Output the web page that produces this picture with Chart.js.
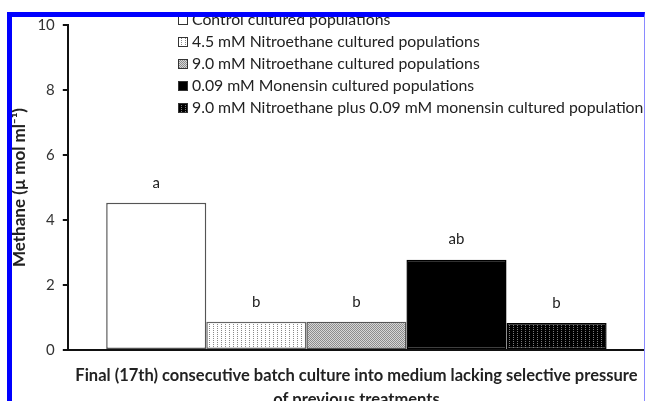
<!DOCTYPE html>
<html>
<head>
<meta charset="utf-8">
<script src="https://cdn.jsdelivr.net/npm/chart.js@4.4.0/dist/chart.umd.min.js"></script>
<style>
  html, body { margin: 0; padding: 0; background: #fff; overflow: hidden; }
  #wrap { position: relative; width: 645px; height: 401px; overflow: hidden; }
  #holder { position: absolute; left: 0; top: 0; width: 645px; height: 412px; }
  #frame {
    position: absolute; left: 7px; top: 12px; width: 638px; height: 400px;
    box-sizing: border-box; pointer-events: none;
    border-top: 5px solid #0000ff; border-left: 5px solid #0000ff; border-right: 1px solid #8a8aff;
  }
</style>
</head>
<body>
<div id="wrap">
  <div id="holder"><canvas id="chart" width="645" height="412"></canvas></div>
  <div id="frame"></div>
</div>
<script>
/* Methane after final batch culture — grouped bars with stipple fills */

const seriesLabels = [
    "Control cultured populations",
    "4.5 mM Nitroethane cultured populations",
    "9.0 mM Nitroethane cultured populations",
    "0.09 mM Monensin cultured populations",
    "9.0 mM Nitroethane plus 0.09 mM monensin cultured population",
];
const methane = [4.53, 0.87, 0.87, 2.78, 0.83];
const sigLetters = ["a", "b", "b", "ab", "b"];
const yTicks = [0, 2, 4, 6, 8, 10];
const categories = [""];
const xTitle = [
    "Final (17th) consecutive batch culture into medium lacking selective pressure",
    "of previous treatments",
];
const yTitle = "Methane (\u00b5 mol ml\u207b\u00b9)";

const FONT = "Lato, 'Open Sans', sans-serif";

/* small tiled fills for the stippled bars */
function stipple(bg, dot, size, dots) {
    const c = document.createElement("canvas");
    c.width = size; c.height = size;
    const g = c.getContext("2d");
    g.fillStyle = bg;
    g.fillRect(0, 0, size, size);
    g.fillStyle = dot;
    dots.forEach(([x, y]) => g.fillRect(x, y, 1, 1));
    return g.createPattern(c, "repeat");
}

const ctx = document.getElementById("chart").getContext("2d");
const FILLS = [
    "#ffffff",
    stipple("#ffffff", "#8a8a8a", 4, [[1, 0], [1, 2]]),
    stipple("#d6d6d6", "#8c8c8c", 2, [[0, 0], [1, 1]]),
    "#000000",
    stipple("#000000", "#7a7a7a", 4, [[1, 1], [1, 3]]),
];
const BORDERS = ["#555", "#666", "#555", "#000", "#000"];

const letterLabels = {
    id: "letterLabels",
    afterDatasetsDraw(chart) {
        const c = chart.ctx;
        c.save();
        c.font = "15px " + FONT;
        c.fillStyle = "#222";
        c.textAlign = "center";
        c.textBaseline = "middle";
        chart.data.datasets.forEach((ds, i) => {
            const bar = chart.getDatasetMeta(i).data[0];
            c.fillText(sigLetters[i], bar.x, bar.y - 20);
        });
        c.restore();
    },
};

const boxLegend = {
    id: "boxLegend",
    afterDraw(chart) {
        const c = chart.ctx;
        c.save();
        c.font = "15.8px " + FONT;
        c.textBaseline = "middle";
        chart.data.datasets.forEach((ds, i) => {
            const y = 20 + i * 22;
            c.fillStyle = ds.backgroundColor;
            c.fillRect(178, y - 5, 10, 10);
            c.strokeStyle = "#333";
            c.lineWidth = 1;
            c.strokeRect(178.5, y - 4.5, 9, 9);
            c.fillStyle = "#222";
            c.fillText(ds.label, 192, y);
        });
        c.restore();
    },
};

new Chart(ctx, {
    type: "bar",
    data: {
        labels: categories,
        datasets: seriesLabels.map((label, i) => ({
            label,
            data: [methane[i]],
            backgroundColor: FILLS[i],
            borderColor: BORDERS[i],
            borderWidth: 1.5,
            borderSkipped: false,
        })),
    },
    options: {
        responsive: false,
        animation: false,
        categoryPercentage: 0.867,
        barPercentage: 1.0,
        layout: { padding: { left: 9, top: 25, right: 0, bottom: 0 } },
        scales: {
            x: {
                grid: { display: false },
                border: { color: "#111", width: 2 },
                ticks: { display: false },
                title: {
                    display: true,
                    text: xTitle,
                    color: "#222",
                    font: { family: FONT, size: 16.5, weight: "bold", lineHeight: "24px" },
                    padding: { top: 6, bottom: 0 },
                },
            },
            y: {
                min: 0,
                max: 10,
                afterBuildTicks: (s) => { s.ticks = yTicks.map((v) => ({ value: v })); },
                grid: { drawOnChartArea: false, drawTicks: true, tickLength: 5, color: "#111", lineWidth: 2 },
                border: { color: "#111", width: 2 },
                ticks: { color: "#333", font: { family: FONT, size: 15 }, padding: 8 },
                title: {
                    display: true,
                    text: yTitle,
                    color: "#222",
                    font: { family: FONT, size: 17, weight: "bold" },
                    padding: { top: 0, bottom: 0 },
                },
            },
        },
        plugins: {
            legend: { display: false },
            tooltip: { enabled: false },
        },
    },
    plugins: [letterLabels, boxLegend],
});
</script>
</body>
</html>
